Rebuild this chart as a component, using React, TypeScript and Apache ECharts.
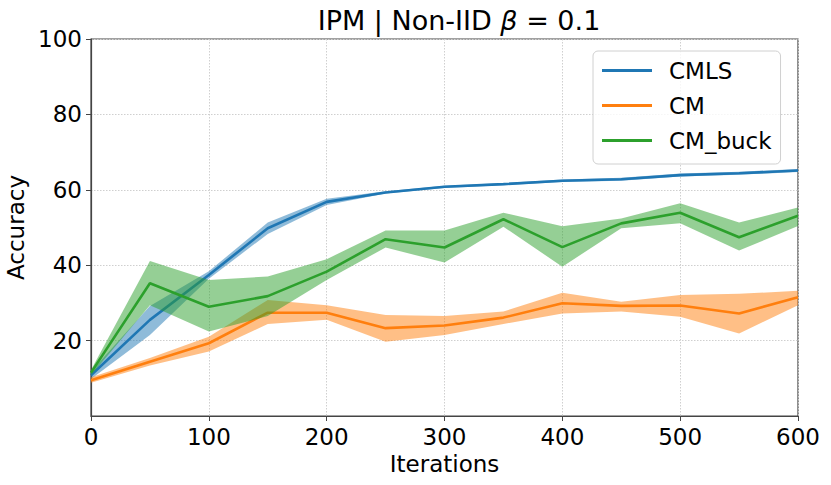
import React, { useEffect, useRef } from "react";
import * as echarts from "echarts";

const iterations = ["0", "50", "100", "150", "200", "250", "300", "350", "400", "450", "500", "550", "600"];

const cmlsMean = [10.8, 25.5, 37.4, 49.8, 56.8, 59.3, 60.8, 61.5, 62.4, 62.8, 63.9, 64.4, 65.1];
const cmlsLow = [9.8, 21.5, 36.4, 48.3, 56.0, 59.0, 60.5, 61.2, 62.1, 62.4, 63.5, 64.0, 64.7];
const cmlsHigh = [11.8, 29.2, 38.4, 51.3, 57.6, 59.6, 61.1, 61.8, 62.7, 63.2, 64.3, 64.8, 65.5];

const cmMean = [9.5, 14.4, 19.3, 27.4, 27.4, 23.3, 24.0, 26.1, 29.9, 29.2, 29.3, 27.2, 31.5];
const cmLow = [8.8, 13.4, 17.1, 24.4, 25.5, 19.7, 21.5, 24.4, 27.2, 27.7, 26.3, 21.9, 29.4];
const cmHigh = [10.3, 15.4, 21.0, 30.8, 29.4, 26.8, 26.5, 27.7, 32.7, 30.3, 32.1, 32.4, 33.2];

const buckMean = [11.5, 35.2, 29.0, 31.8, 38.3, 46.9, 44.7, 52.2, 44.8, 51.1, 53.9, 47.4, 53.1];
const buckLow = [10.8, 29.4, 22.4, 26.5, 36.1, 44.7, 40.7, 50.2, 39.6, 49.8, 51.1, 43.9, 50.4];
const buckHigh = [12.2, 41.1, 36.1, 37.0, 41.6, 49.2, 49.2, 53.9, 50.3, 52.4, 56.4, 51.3, 55.3];

const FONT = "DejaVu Sans";

function bandSeries(id: string, low: number[], high: number[], color: string, z: number) {
  return [
    {
      type: "line",
      name: id + "_low",
      stack: id,
      data: low,
      symbol: "none",
      lineStyle: { opacity: 0 },
      silent: true,
      z,
    },
    {
      type: "line",
      name: id + "_band",
      stack: id,
      data: high.map((h, i) => +(h - low[i]).toFixed(3)),
      symbol: "none",
      lineStyle: { opacity: 0 },
      areaStyle: { color, opacity: 0.5 },
      silent: true,
      z,
    },
  ];
}

function meanSeries(name: string, data: number[], color: string, z: number) {
  return {
    type: "line",
    name,
    data,
    color,
    symbol: "none",
    lineStyle: { color, width: 2.6 },
    z,
  };
}

export default function App() {
  const ref = useRef<HTMLDivElement>(null);
  useEffect(() => {
    if (!ref.current) return;
    const chart = echarts.init(ref.current, undefined, { renderer: "svg" });
    const blue = "#1f77b4";
    const orange = "#ff7f0e";
    const green = "#2ca02c";
    const gridLine = { show: true, lineStyle: { color: "#cfcfcf", type: [1.5, 1.5], width: 1 } };
    chart.setOption({
      animation: false,
      backgroundColor: "#ffffff",
      textStyle: { fontFamily: FONT },
      title: {
        text: "{a|IPM | Non-IID }{b|β}{a| = 0.1}",
        left: 454,
        textAlign: "center",
        top: 2,
        textStyle: {
          fontWeight: "normal",
          rich: {
            a: { fontFamily: FONT, fontSize: 27, fontWeight: "normal", color: "#000" },
            b: { fontFamily: FONT, fontSize: 27, fontWeight: "normal", fontStyle: "italic", color: "#000" },
          },
        },
      },
      legend: {
        data: ["CMLS", "CM", "CM_buck"],
        orient: "vertical",
        left: 593,
        top: 51,
        icon: "rect",
        itemWidth: 50,
        itemHeight: 3,
        itemGap: 12,
        padding: [8, 9, 12, 9],
        borderColor: "#d0d0d0",
        borderWidth: 1,
        borderRadius: 5,
        backgroundColor: "rgba(255,255,255,0.8)",
        textStyle: { fontFamily: FONT, fontSize: 23, color: "#000", lineHeight: 23, padding: [0, 0, 0, 12] },
      },
      grid: {
        left: 91,
        right: 33,
        top: 39,
        bottom: 69,
        show: true,
        borderColor: "#444",
        borderWidth: 1.2,
        outerBoundsMode: "none",
        containLabel: false,
      },
      xAxis: {
        type: "category",
        data: iterations,
        boundaryGap: false,
        name: "Iterations",
        nameLocation: "middle",
        nameGap: 36,
        nameTextStyle: { fontFamily: FONT, fontSize: 23, color: "#000" },
        axisLine: { lineStyle: { color: "#444", width: 1.2 } },
        axisTick: { interval: 1, length: 5, lineStyle: { color: "#444" } },
        axisLabel: { interval: 1, fontFamily: FONT, fontSize: 23, color: "#000", margin: 9 },
        splitLine: { ...gridLine, interval: 1 },
      },
      yAxis: {
        type: "value",
        min: 0,
        max: 100,
        interval: 20,
        name: "Accuracy",
        nameLocation: "middle",
        nameGap: 59,
        nameTextStyle: { fontFamily: FONT, fontSize: 23, color: "#000" },
        axisLine: { show: true, lineStyle: { color: "#444", width: 1.2 } },
        axisTick: { show: true, length: 5, lineStyle: { color: "#444" } },
        axisLabel: { fontFamily: FONT, fontSize: 23, color: "#000", margin: 9, showMinLabel: false },
        splitLine: gridLine,
      },
      series: [
        ...bandSeries("cmls", cmlsLow, cmlsHigh, blue, 2),
        meanSeries("CMLS", cmlsMean, blue, 3),
        ...bandSeries("cm", cmLow, cmHigh, orange, 4),
        meanSeries("CM", cmMean, orange, 5),
        ...bandSeries("buck", buckLow, buckHigh, green, 6),
        meanSeries("CM_buck", buckMean, green, 7),
      ],
    });
    return () => chart.dispose();
  }, []);
  return <div ref={ref} style={{ position: "fixed", left: 0, top: 0, width: 831, height: 485 }} />;
}
